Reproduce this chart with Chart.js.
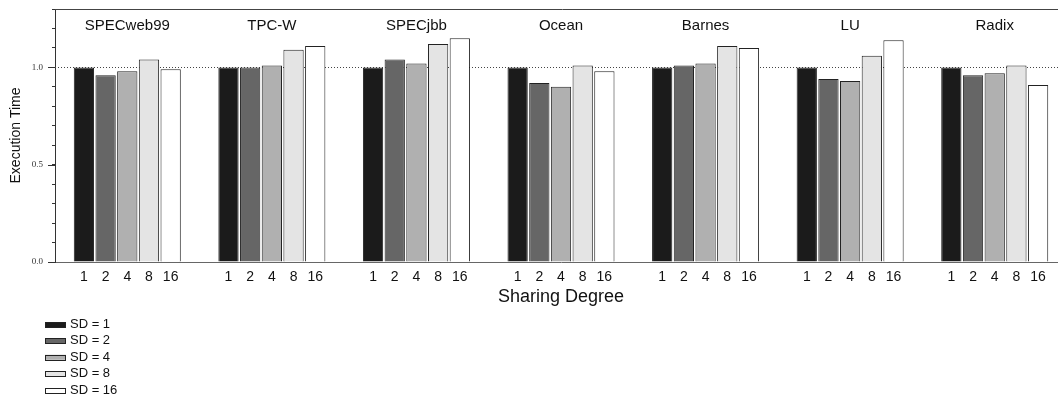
<!DOCTYPE html>
<html lang="en">

<head>
    <meta charset="UTF-8">
    <title>Execution Time x Sharing Degree</title>
    <script src="https://cdn.jsdelivr.net/npm/chart.js"></script>
    <style>
        body {
            margin: 0;
            overflow: hidden;
            background: #fff;
        }

        #grafico {
            position: absolute;
            left: 0;
            top: 0;
        }
    </style>
</head>

<body>
    <!-- canvas um pouco mais largo que a janela: o lado direito do gráfico fica cortado como no original -->
    <canvas id="grafico" width="1070" height="398"></canvas>
</body>

</html>

<script>
    // dados
    const categorias = ['SPECweb99', 'TPC-W', 'SPECjbb', 'Ocean', 'Barnes', 'LU', 'Radix'];
    const graus = ['1', '2', '4', '8', '16'];

    const sd1 = [1.00, 1.00, 1.00, 1.00, 1.00, 1.00, 1.00];
    const sd2 = [0.96, 1.00, 1.04, 0.92, 1.01, 0.94, 0.96];
    const sd4 = [0.98, 1.01, 1.02, 0.90, 1.02, 0.93, 0.97];
    const sd8 = [1.04, 1.09, 1.12, 1.01, 1.11, 1.06, 1.01];
    const sd16 = [0.99, 1.11, 1.15, 0.98, 1.10, 1.14, 0.91];

    const yTicksLabel = [0.0, 0.5, 1.0];

    const series = [sd1, sd2, sd4, sd8, sd16];
    const cores = ['#1b1b1b', '#666666', '#b0b0b0', '#e4e4e4', '#ffffff'];

    const fonte = '"Liberation Sans", Arial, sans-serif';

    // linha pontilhada em 1.0 (atrás das barras)
    const linhaReferencia = {
        id: 'linhaReferencia',
        beforeDatasetsDraw(chart) {
            const ctx = chart.ctx;
            const area = chart.chartArea;
            const y = Math.round(chart.scales.y.getPixelForValue(1.0)) + 0.5;
            ctx.save();
            ctx.strokeStyle = '#444';
            ctx.lineWidth = 1;
            ctx.setLineDash([1, 2]);
            ctx.beginPath();
            ctx.moveTo(area.left, y);
            ctx.lineTo(area.right, y);
            ctx.stroke();
            ctx.restore();
        }
    };

    // titulos dos grupos, rótulos 1 2 4 8 16 em cada barra, borda de cima e legenda
    const extras = {
        id: 'extras',
        afterDraw(chart) {
            const ctx = chart.ctx;
            const area = chart.chartArea;
            const xScale = chart.scales.x;
            const yScale = chart.scales.y;
            ctx.save();

            // borda de cima
            ctx.strokeStyle = '#444';
            ctx.lineWidth = 1;
            ctx.beginPath();
            ctx.moveTo(area.left, area.top + 0.5);
            ctx.lineTo(chart.width, area.top + 0.5);
            ctx.stroke();

            // ticks maiores nos valores com rótulo
            ctx.strokeStyle = '#333';
            yTicksLabel.forEach(v => {
                const y = Math.round(yScale.getPixelForValue(v)) + 0.5;
                ctx.beginPath();
                ctx.moveTo(area.left - 7, y);
                ctx.lineTo(area.left, y);
                ctx.stroke();
            });

            // titulos
            ctx.fillStyle = '#111';
            ctx.textAlign = 'center';
            ctx.textBaseline = 'middle';
            ctx.font = '15px ' + fonte;
            categorias.forEach((nome, i) => {
                ctx.fillText(nome, xScale.getPixelForValue(i), area.top + 17);
            });

            // rótulos por barra
            ctx.font = '14px ' + fonte;
            chart.data.datasets.forEach((ds, d) => {
                const meta = chart.getDatasetMeta(d);
                meta.data.forEach(barra => {
                    ctx.fillText(graus[d], barra.x, area.bottom + 15);
                });
            });

            // legenda vertical
            ctx.textAlign = 'left';
            ctx.font = '13px ' + fonte;
            chart.data.datasets.forEach((ds, d) => {
                const y = 324.5 + d * 16.4;
                ctx.fillStyle = ds.backgroundColor;
                ctx.fillRect(45, y - 2.5, 21, 5);
                ctx.strokeStyle = '#222';
                ctx.strokeRect(45.5, Math.round(y - 2.5) + 0.5, 20, 5);
                ctx.fillStyle = '#111';
                ctx.fillText(ds.label, 70, y);
            });

            ctx.restore();
        }
    };

    const dados = {
        labels: categorias,
        datasets: series.map((valores, i) => ({
            label: 'SD = ' + graus[i],
            data: valores,
            backgroundColor: cores[i],
            borderColor: '#222',
            borderWidth: 1,
            borderSkipped: 'start',
            categoryPercentage: 0.75,
            barPercentage: 0.935
        }))
    };

    const config = {
        type: 'bar',
        data: dados,
        options: {
            responsive: false,
            animation: false,
            devicePixelRatio: 1,
            layout: {
                padding: { left: 0, right: 3, top: 9, bottom: 0 }
            },
            plugins: {
                legend: { display: false },
                tooltip: { enabled: false }
            },
            scales: {
                x: {
                    type: 'category',
                    grid: { display: false },
                    border: { display: true, color: '#666', width: 1 },
                    ticks: { display: false },
                    title: {
                        display: true,
                        text: 'Sharing Degree',
                        color: '#111',
                        font: { family: fonte, size: 18 },
                        padding: { top: 0, bottom: 90 }
                    },
                    afterFit(scale) {
                        scale.height = 136;
                        scale.paddingLeft = 0;
                        scale.paddingRight = 0;
                    }
                },
                y: {
                    min: 0,
                    max: 1.3,
                    grid: {
                        drawOnChartArea: false,
                        drawTicks: true,
                        tickLength: 3,
                        tickColor: '#333'
                    },
                    border: { display: true, color: '#333', width: 1 },
                    ticks: {
                        stepSize: 0.1,
                        autoSkip: false,
                        padding: 9,
                        color: '#333',
                        font: { family: '"Liberation Serif", "Times New Roman", serif', size: 9 },
                        callback: function (valor) {
                            const achado = yTicksLabel.find(t => Math.abs(t - valor) < 1e-6);
                            return achado === undefined ? '' : achado.toFixed(1);
                        }
                    },
                    title: {
                        display: true,
                        text: 'Execution Time',
                        color: '#111',
                        font: { family: fonte, size: 14 },
                        padding: { top: 8, bottom: 0 }
                    },
                    afterFit(scale) {
                        scale.width = 55;
                        scale.paddingTop = 0;
                        scale.paddingBottom = 0;
                    }
                }
            }
        },
        plugins: [linhaReferencia, extras]
    };

    new Chart(document.getElementById('grafico'), config);
</script>
